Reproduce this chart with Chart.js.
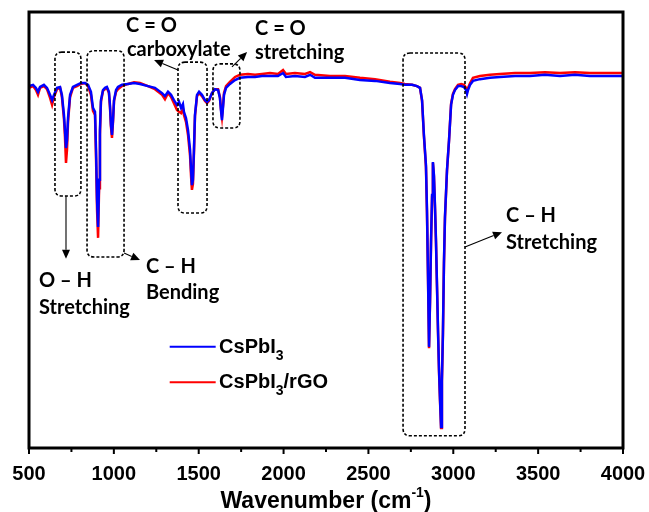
<!DOCTYPE html>
<html>
<head>
<meta charset="utf-8">
<script src="https://cdn.jsdelivr.net/npm/chart.js@4.4.0/dist/chart.umd.min.js"></script>
<style>
  html, body { margin: 0; padding: 0; background: #fff; }
</style>
</head>
<body>
<canvas id="ftir" width="649" height="512"></canvas>
<script>
// FTIR spectra, transmittance (a.u.) against wavenumber (cm-1)
const wavenumbers = [
  500, 524, 541, 553, 565, 588, 606, 624, 636, 647, 665, 683, 694, 706, 712, 718, 724, 730, 742, 759,
  783, 806, 830, 848, 865, 877, 889, 895, 901, 907, 913, 918, 924, 936, 948, 959, 971, 977, 983, 989,
  995, 1001, 1013, 1024, 1048, 1083, 1119, 1154, 1201, 1242, 1284, 1301, 1319, 1337, 1354, 1372, 1384, 1396, 1407, 1413,
  1425, 1437, 1449, 1455, 1460, 1466, 1472, 1478, 1490, 1502, 1519, 1537, 1549, 1561, 1578, 1596, 1614, 1625, 1631, 1637,
  1643, 1649, 1661, 1684, 1714, 1743, 1790, 1832, 1873, 1920, 1967, 1997, 2014, 2067, 2126, 2156, 2185, 2273, 2362, 2450,
  2539, 2627, 2686, 2715, 2757, 2786, 2804, 2816, 2827, 2839, 2845, 2851, 2857, 2863, 2869, 2875, 2880, 2886, 2892, 2898,
  2904, 2910, 2916, 2922, 2928, 2933, 2939, 2945, 2951, 2963, 2975, 2987, 2998, 3010, 3028, 3046, 3063, 3075, 3081, 3087,
  3099, 3116, 3157, 3216, 3275, 3364, 3452, 3540, 3629, 3717, 3805, 3894, 4000
];

const cspbi3 = [
  83.0, 83.3, 82.6, 81.7, 82.8, 83.3, 82.6, 81.0, 79.8, 81.0, 82.6, 82.8, 81.0, 76.4, 72.9, 68.8, 70.6, 75.7, 81.0, 82.8,
  83.3, 83.7, 83.7, 83.3, 81.7, 78.0, 77.1, 68.4, 56.9, 50.7, 61.5, 72.9, 79.8, 82.1, 82.6, 82.8, 81.7, 78.7, 74.1, 71.8,
  75.2, 79.8, 82.1, 82.8, 83.3, 83.5, 83.7, 83.5, 83.0, 82.6, 81.4, 80.7, 81.7, 81.0, 79.8, 78.7, 79.4, 78.0, 78.9, 77.1,
  75.7, 72.9, 68.4, 63.8, 60.3, 61.5, 68.4, 76.4, 81.0, 81.7, 81.0, 79.8, 79.4, 79.8, 81.4, 82.3, 82.1, 80.3, 77.5, 75.2,
  78.0, 81.0, 82.6, 83.5, 84.4, 84.9, 85.1, 85.1, 85.3, 85.3, 85.3, 86.0, 85.1, 85.3, 85.1, 85.6, 84.9, 84.9, 84.9, 84.4,
  84.2, 83.7, 83.5, 83.3, 83.3, 83.0, 82.6, 79.8, 71.8, 64.9, 54.6, 39.7, 23.2, 33.9, 47.7, 58.0, 65.6, 62.6, 55.7, 47.7,
  37.4, 27.1, 17.9, 11.0, 4.8, 15.6, 26.4, 42.4, 53.0, 63.8, 70.6, 78.7, 81.0, 82.1, 83.0, 83.0, 82.8, 82.1, 81.2, 82.1,
  83.3, 84.2, 84.6, 84.9, 85.1, 85.3, 85.3, 85.6, 85.3, 85.6, 85.3, 85.3, 85.3
];

const cspbi3Rgo = [
  82.6, 83.0, 82.1, 81.0, 82.6, 83.0, 82.3, 80.3, 78.7, 80.5, 82.3, 82.6, 80.5, 75.5, 71.3, 65.4, 68.5, 74.8, 80.5, 82.6,
  83.0, 83.5, 83.7, 83.0, 81.0, 77.3, 76.4, 66.5, 54.6, 48.2, 59.6, 71.8, 79.4, 81.9, 82.3, 82.6, 81.4, 78.2, 73.6, 71.1,
  74.8, 79.6, 81.7, 82.3, 83.0, 83.5, 83.9, 83.7, 83.0, 82.3, 81.0, 80.0, 81.4, 80.5, 79.1, 77.5, 77.1, 76.8, 77.8, 76.4,
  74.8, 71.8, 67.0, 62.2, 59.2, 60.6, 67.7, 76.1, 80.7, 81.4, 80.7, 79.6, 79.1, 79.6, 81.4, 82.3, 82.3, 80.5, 77.8, 75.9,
  78.4, 81.4, 83.0, 84.0, 85.1, 85.6, 85.8, 85.6, 85.8, 86.0, 85.8, 86.7, 85.8, 86.0, 85.8, 86.2, 85.6, 85.3, 85.3, 84.9,
  84.6, 84.0, 83.7, 83.5, 83.3, 83.0, 82.6, 79.6, 71.5, 64.4, 54.0, 39.2, 22.9, 33.5, 47.2, 57.6, 65.4, 62.3, 55.2, 47.2,
  37.0, 26.6, 17.4, 10.6, 4.6, 15.2, 26.0, 42.0, 52.7, 63.6, 70.6, 78.9, 81.2, 82.3, 83.3, 83.5, 83.3, 82.6, 81.7, 82.6,
  83.7, 84.9, 85.3, 85.6, 85.8, 86.0, 86.0, 86.2, 86.0, 86.2, 86.0, 86.0, 86.0
];

const xTicks = [500, 1000, 1500, 2000, 2500, 3000, 3500, 4000];
const xMinorTicks = [750, 1250, 1750, 2250, 2750, 3250, 3750];

const seriesNames = ['CsPbI', 'CsPbI'];
const seriesSub = ['3', '3'];
const seriesTail = ['', '/rGO'];

const toPoints = vals => wavenumbers.map((w, i) => ({ x: w, y: vals[i] }));

// band boxes: [wn from, wn to, top, bottom]
const bandBoxes = [
  [653, 806, 90.8, 57.8],
  [842, 1060, 91.1, 43.8],
  [1378, 1549, 88.5, 53.9],
  [1584, 1743, 88.1, 73.4],
  [2704, 3069, 90.6, 2.8]
];
// arrows: [wn0, v0, wn1, v1] (head at the second point)
const arrows = [
  [718, 57.8, 718, 43.4],
  [1060, 44.7, 1154, 43.1],
  [1378, 86.7, 1237, 89.0],
  [1696, 87.4, 1785, 90.8],
  [3069, 46.1, 3287, 49.5]
];
// band labels: [text, wn, v]
const bandLabels = [
  ['C = O', 1072, 97.0],
  ['carboxylate', 1077, 91.5],
  ['C = O', 1832, 96.3],
  ['stretching', 1832, 90.6],
  ['O \u2013 H', 559, 38.3],
  ['Stretching', 559, 32.1],
  ['C \u2013 H', 1189, 41.7],
  ['Bending', 1189, 35.6],
  ['C \u2013 H', 3311, 53.4],
  ['Stretching', 3311, 47.2]
];

function roundRect(ctx, x0, y0, x1, y1, r) {
  ctx.beginPath();
  ctx.moveTo(x0 + r, y0);
  ctx.lineTo(x1 - r, y0);
  ctx.quadraticCurveTo(x1, y0, x1, y0 + r);
  ctx.lineTo(x1, y1 - r);
  ctx.quadraticCurveTo(x1, y1, x1 - r, y1);
  ctx.lineTo(x0 + r, y1);
  ctx.quadraticCurveTo(x0, y1, x0, y1 - r);
  ctx.lineTo(x0, y0 + r);
  ctx.quadraticCurveTo(x0, y0, x0 + r, y0);
  ctx.closePath();
  ctx.stroke();
}

function arrow(ctx, x0, y0, x1, y1) {
  const ang = Math.atan2(y1 - y0, x1 - x0);
  const len = 9, half = 4;
  ctx.beginPath();
  ctx.moveTo(x0, y0);
  ctx.lineTo(x1 - Math.cos(ang) * len, y1 - Math.sin(ang) * len);
  ctx.stroke();
  ctx.beginPath();
  ctx.moveTo(x1, y1);
  ctx.lineTo(x1 - Math.cos(ang) * len - Math.sin(ang) * half, y1 - Math.sin(ang) * len + Math.cos(ang) * half);
  ctx.lineTo(x1 - Math.cos(ang) * len + Math.sin(ang) * half, y1 - Math.sin(ang) * len - Math.cos(ang) * half);
  ctx.closePath();
  ctx.fill();
}

const decorations = {
  id: 'decorations',
  afterDraw(chart) {
    const { ctx, chartArea: a, scales: { x, y } } = chart;
    ctx.save();

    // band boxes
    ctx.strokeStyle = '#000';
    ctx.lineWidth = 1.6;
    ctx.setLineDash([3, 2]);
    bandBoxes.forEach(b => {
      roundRect(ctx, x.getPixelForValue(b[0]), y.getPixelForValue(b[2]),
        x.getPixelForValue(b[1]), y.getPixelForValue(b[3]), 7);
    });
    ctx.setLineDash([]);

    // arrows
    ctx.lineWidth = 1.1;
    ctx.fillStyle = '#000';
    ctx.strokeStyle = '#000';
    arrows.forEach(p => {
      arrow(ctx, x.getPixelForValue(p[0]), y.getPixelForValue(p[1]),
        x.getPixelForValue(p[2]), y.getPixelForValue(p[3]));
    });

    // band labels
    ctx.font = 'bold 20px Lato';
    ctx.textBaseline = 'middle';
    ctx.textAlign = 'left';
    bandLabels.forEach(t => ctx.fillText(t[0], x.getPixelForValue(t[1]), y.getPixelForValue(t[2])));

    // frame
    ctx.lineWidth = 3;
    ctx.strokeRect(a.left, a.top, a.right - a.left, a.bottom - a.top);

    // tick marks
    ctx.lineWidth = 2;
    ctx.beginPath();
    xTicks.forEach(v => {
      const px = x.getPixelForValue(v);
      ctx.moveTo(px, a.bottom); ctx.lineTo(px, a.bottom + 6);
    });
    xMinorTicks.forEach(v => {
      const px = x.getPixelForValue(v);
      ctx.moveTo(px, a.bottom); ctx.lineTo(px, a.bottom + 4);
    });
    ctx.stroke();

    // axis title with superscript
    const main = 'Wavenumber (cm', sup = '-1', end = ')';
    ctx.textBaseline = 'alphabetic';
    ctx.font = 'bold 23px "Liberation Sans"';
    const wMain = ctx.measureText(main).width, wEnd = ctx.measureText(end).width;
    ctx.font = 'bold 14px "Liberation Sans"';
    const wSup = ctx.measureText(sup).width;
    let tx = (a.left + a.right) / 2 - (wMain + wSup + wEnd) / 2;
    const ty = 508;
    ctx.font = 'bold 23px "Liberation Sans"';
    ctx.fillText(main, tx, ty);
    tx += wMain;
    ctx.font = 'bold 14px "Liberation Sans"';
    ctx.fillText(sup, tx, ty - 11);
    tx += wSup;
    ctx.font = 'bold 23px "Liberation Sans"';
    ctx.fillText(end, tx, ty);

    // legend
    const colors = ['#0000ff', '#ff0000'];
    const legendY = [23.2, 15.1];
    const lx0 = x.getPixelForValue(1329), lx1 = x.getPixelForValue(1600), ltx = x.getPixelForValue(1620);
    legendY.forEach((v, i) => {
      const py = y.getPixelForValue(v);
      ctx.strokeStyle = colors[i];
      ctx.lineWidth = 2;
      ctx.beginPath();
      ctx.moveTo(lx0, py); ctx.lineTo(lx1, py);
      ctx.stroke();
      ctx.fillStyle = '#000';
      let cx = ltx;
      const base = py + 6;
      ctx.font = 'bold 20px "Liberation Sans"';
      ctx.fillText(seriesNames[i], cx, base);
      cx += ctx.measureText(seriesNames[i]).width;
      ctx.font = 'bold 14px "Liberation Sans"';
      ctx.fillText(seriesSub[i], cx, base + 7);
      cx += ctx.measureText(seriesSub[i]).width;
      ctx.font = 'bold 20px "Liberation Sans"';
      ctx.fillText(seriesTail[i], cx, base);
    });

    ctx.restore();
  }
};

Chart.defaults.font.family = '"Liberation Sans", Arial, sans-serif';

new Chart(document.getElementById('ftir'), {
  type: 'line',
  data: {
    datasets: [
      {
        label: 'CsPbI3',
        data: toPoints(cspbi3),
        borderColor: '#0000ff',
        borderWidth: 2.5,
        pointRadius: 0,
        tension: 0
      },
      {
        label: 'CsPbI3/rGO',
        data: toPoints(cspbi3Rgo),
        borderColor: '#ff0000',
        borderWidth: 2.5,
        pointRadius: 0,
        tension: 0
      }
    ]
  },
  options: {
    responsive: false,
    animation: false,
    layout: { padding: { left: 29, right: 26, top: 12, bottom: 0 } },
    plugins: { legend: { display: false }, tooltip: { enabled: false } },
    scales: {
      x: {
        type: 'linear',
        min: 500,
        max: 4000,
        afterBuildTicks: s => { s.ticks = xTicks.map(v => ({ value: v })); },
        afterFit: s => {
          s.height = 64;
          s.paddingLeft = 0;
          s.paddingRight = 0;
        },
        grid: { display: false },
        border: { display: false },
        ticks: {
          color: '#000',
          font: { size: 20, weight: 'bold' },
          padding: 6,
          maxRotation: 0,
          autoSkip: false,
          callback: v => String(v)
        }
      },
      y: { display: false, min: 0, max: 100 }
    }
  },
  plugins: [decorations]
});
</script>
</body>
</html>
